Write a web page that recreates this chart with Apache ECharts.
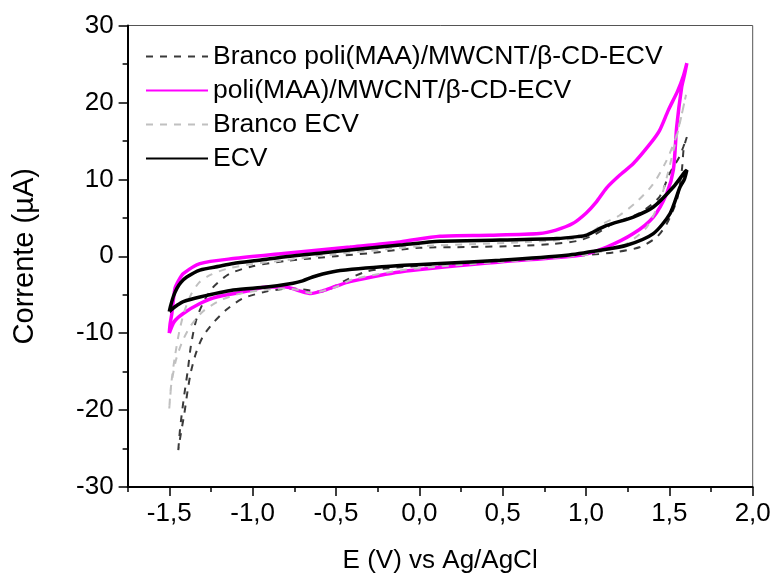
<!DOCTYPE html>
<html>
<head>
<meta charset="utf-8">
<script src="https://cdn.jsdelivr.net/npm/echarts@6/dist/echarts.min.js"></script>
<style>
  html, body { margin: 0; padding: 0; background: #fff; }
  #chart { width: 771px; height: 573px; }
</style>
</head>
<body>
<div id="chart"></div>
<script>
// Cyclic voltammograms: potential E (V vs Ag/AgCl) and current I (µA)

// Blank, poli(MAA)/MWCNT/β-CD electrode
const brancoPoliE = [-1.446,-1.436,-1.426,-1.41,-1.39,-1.37,-1.34,-1.30,-1.24,-1.14,-1.0,-0.8,-0.5,-0.3,0.0,0.3,0.6,0.8,0.95,1.05,1.16,1.32,1.44,1.50,1.56,1.585,1.605,
  1.595,1.585,1.575,1.545,1.485,1.425,1.325,1.185,0.985,0.7,0.4,0.1,-0.2,-0.32,-0.44,-0.54,-0.6,-0.7,-0.78,-0.92,-1.06,-1.16,-1.24,-1.30,-1.34,-1.37,-1.39,-1.41,-1.43,-1.446];
const brancoPoliI = [-25.2,-22.6,-20.7,-18.0,-15.0,-11.6,-8.4,-6.2,-4.1,-2.3,-1.3,-0.6,0.0,0.4,1.1,1.2,1.35,1.6,2.0,2.8,4.2,5.6,7.7,10.7,12.9,14.3,15.5,
  14.8,13.8,11.2,7.3,4.25,2.5,1.2,0.56,0.13,-0.3,-0.7,-1.1,-1.6,-2.0,-3.1,-4.3,-4.6,-4.3,-4.2,-4.6,-5.5,-7.0,-8.75,-10.5,-12.6,-15.0,-17.5,-20.5,-23.0,-25.2];

// poli(MAA)/MWCNT/β-CD electrode with ECV
const poliE = [-1.50,-1.495,-1.485,-1.466,-1.44,-1.416,-1.316,-1.116,-0.816,-0.416,-0.116,0.124,0.424,0.72,0.82,0.92,1.0,1.06,1.124,1.2,1.284,1.384,1.44,1.494,1.55,1.585,1.605,
  1.59,1.574,1.544,1.524,1.484,1.404,1.284,1.124,0.964,0.484,-0.116,-0.416,-0.5,-0.58,-0.65,-0.72,-0.8,-0.92,-1.02,-1.216,-1.316,-1.416,-1.47,-1.50];
const poliI = [-10.0,-8.8,-7.5,-4.2,-3.0,-2.25,-0.95,-0.3,0.35,1.2,1.86,2.6,2.73,2.95,3.4,4.25,5.6,7.0,8.9,10.5,12.05,14.6,16.3,19.0,21.5,23.5,25.1,
  23.5,22.0,16.8,11.2,8.15,5.1,2.95,1.2,0.13,-0.74,-2.04,-3.3,-3.9,-4.5,-4.85,-4.5,-4.0,-4.0,-4.5,-5.3,-6.15,-7.45,-8.5,-10.0];

// Blank, bare electrode
const brancoE = [-1.50,-1.485,-1.466,-1.44,-1.41,-1.37,-1.32,-1.25,-1.15,-1.0,-0.8,-0.5,-0.2,0.0,0.3,0.6,0.9,1.0,1.1,1.2,1.3,1.4,1.48,1.54,1.58,1.60,
  1.585,1.565,1.525,1.485,1.445,1.365,1.245,1.125,1.0,0.8,0.5,0.2,-0.1,-0.4,-0.5,-0.58,-0.65,-0.72,-0.8,-0.95,-1.1,-1.2,-1.3,-1.37,-1.42,-1.46,-1.49,-1.50];
const brancoI = [-19.8,-16.0,-13.0,-9.8,-7.2,-5.0,-3.4,-2.4,-1.6,-1.0,-0.5,0.3,0.9,1.3,1.55,1.8,2.2,2.6,4.2,5.3,7.0,9.3,12.3,15.5,19.0,21.0,
  19.5,17.5,13.8,10.3,7.3,3.8,1.65,0.78,0.2,-0.2,-0.7,-1.2,-1.8,-3.0,-4.0,-4.5,-4.8,-4.4,-4.2,-4.4,-5.0,-5.8,-7.2,-9.0,-11.0,-13.5,-17.0,-19.8];

// Bare electrode with ECV
const ecvE = [-1.50,-1.49,-1.475,-1.455,-1.43,-1.395,-1.316,-1.2,-1.116,-0.95,-0.816,-0.6,-0.416,-0.116,0.124,0.484,0.824,0.95,1.004,1.124,1.284,1.404,1.524,1.594,1.605,
  1.59,1.564,1.504,1.404,1.244,1.084,0.884,0.484,0.124,-0.116,-0.475,-0.58,-0.64,-0.7,-0.757,-0.916,-1.116,-1.316,-1.416,-1.455,-1.485,-1.50];
const ecvI = [-7.2,-6.3,-5.2,-4.2,-3.4,-2.7,-1.8,-1.3,-0.95,-0.5,-0.1,0.4,0.8,1.45,1.95,2.1,2.3,2.55,2.75,4.0,5.1,6.4,9.0,11.0,11.2,
  10.0,9.0,5.55,2.95,1.43,0.78,0.13,-0.52,-0.95,-1.2,-1.85,-2.3,-2.7,-3.2,-3.5,-4.0,-4.4,-5.3,-5.9,-6.4,-6.9,-7.2];

const seriesNames = ['Branco poli(MAA)/MWCNT/β-CD-ECV', 'poli(MAA)/MWCNT/β-CD-ECV', 'Branco ECV', 'ECV'];

// Axis ticks
const eMajor = [-1.5, -1.0, -0.5, 0.0, 0.5, 1.0, 1.5, 2.0];
const eMinor = [-1.75, -1.25, -0.75, -0.25, 0.25, 0.75, 1.25, 1.75];

const FONT = '"Liberation Sans", Arial, Helvetica, sans-serif';

function pairs(xs, ys) {
  return xs.map((x, i) => [x, ys[i]]);
}

function curve(name, xs, ys, color, width, dash) {
  return {
    name: name,
    type: 'line',
    xAxisIndex: 0,
    yAxisIndex: 0,
    data: pairs(xs, ys),
    symbol: 'none',
    showSymbol: false,
    smooth: 0.25,
    lineStyle: { color: color, width: width, type: dash || 'solid' },
    itemStyle: { color: color },
    emphasis: { disabled: true }
  };
}

const chart = echarts.init(document.getElementById('chart'), null, { renderer: 'canvas' });

chart.setOption({
  animation: false,
  backgroundColor: '#fff',
  grid: {
    left: 127.6, right: 18.3, top: 25.5, bottom: 86,
    outerBoundsMode: 'none',
    containLabel: false,
    show: true, borderColor: '#555', borderWidth: 1, backgroundColor: 'transparent'
  },
  legend: {
    orient: 'vertical',
    left: 140,
    top: 38,
    padding: 5,
    itemWidth: 62,
    itemHeight: 14,
    itemGap: 7,
    selectedMode: false,
    itemStyle: { opacity: 0 },
    textStyle: { fontSize: 26.5, lineHeight: 27, color: '#000', fontFamily: FONT },
    data: seriesNames
  },
  xAxis: [
    {
      type: 'value',
      min: -1.75,
      max: 2.0,
      position: 'bottom',
      name: 'E (V) vs Ag/AgCl',
      nameLocation: 'middle',
      nameGap: 61,
      nameTextStyle: { fontSize: 26, color: '#000', fontFamily: FONT },
      axisLine: { show: true, onZero: false, lineStyle: { color: '#000', width: 2 } },
      axisTick: { show: true, length: 9, customValues: eMajor, lineStyle: { color: '#000', width: 1.5 } },
      axisLabel: {
        customValues: eMajor,
        fontSize: 26, color: '#000', fontFamily: FONT, margin: 14,
        formatter: v => v.toFixed(1).replace('.', ',')
      },
      splitLine: { show: false }
    },
    {
      type: 'value',
      min: -1.75,
      max: 2.0,
      position: 'bottom',
      axisLine: { show: false, onZero: false },
      axisTick: { show: true, length: 5, customValues: eMinor, lineStyle: { color: '#000', width: 1.5 } },
      axisLabel: { show: false },
      splitLine: { show: false }
    }
  ],
  yAxis: {
    type: 'value',
    min: -30,
    max: 30,
    interval: 10,
    name: 'Corrente (µA)',
    nameLocation: 'middle',
    nameGap: 88,
    nameTextStyle: { fontSize: 29, color: '#000', fontFamily: FONT },
    axisLine: { show: true, onZero: false, lineStyle: { color: '#000', width: 2 } },
    axisTick: { show: true, length: 9, lineStyle: { color: '#000', width: 1.5 } },
    minorTick: { show: true, splitNumber: 2, length: 5, lineStyle: { color: '#000', width: 1.5 } },
    axisLabel: { fontSize: 26, color: '#000', fontFamily: FONT, margin: 14 },
    splitLine: { show: false },
    minorSplitLine: { show: false }
  },
  series: [
    curve(seriesNames[0], brancoPoliE, brancoPoliI, '#3a3a3a', 2, [7, 7]),
    curve(seriesNames[1], poliE, poliI, '#ff00ff', 3.5),
    curve(seriesNames[2], brancoE, brancoI, '#c0c0c0', 2, [7, 7]),
    curve(seriesNames[3], ecvE, ecvI, '#000000', 3.5)
  ]
});
</script>
</body>
</html>
